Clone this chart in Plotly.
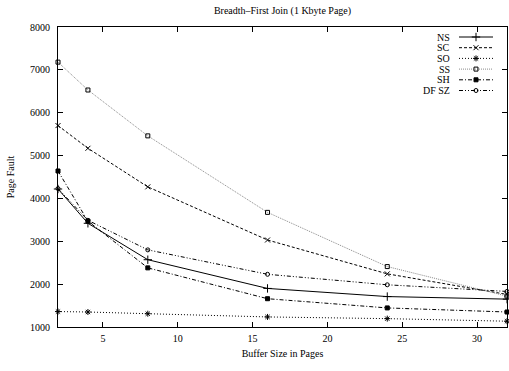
import plotly.graph_objects as go

buffer_pages = [2, 4, 8, 16, 24, 32]
series_names = ["NS", "SC", "SO", "SS", "SH", "DF SZ"]
ns = [4220, 3420, 2570, 1900, 1710, 1650]
sc = [5700, 5170, 4270, 3030, 2240, 1760]
so = [1360, 1350, 1310, 1235, 1195, 1135]
ss = [7180, 6530, 5460, 3675, 2410, 1720]
sh = [4640, 3470, 2380, 1660, 1445, 1350]
dfsz = [4230, 3490, 2800, 2230, 1985, 1830]
values = [ns, sc, so, ss, sh, dfsz]

title = "Breadth\u2013First Join (1 Kbyte Page)"
x_title = "Buffer Size in Pages"
y_title = "Page Fault"
x_ticks = [5, 10, 15, 20, 25, 30]
y_ticks = [1000, 2000, 3000, 4000, 5000, 6000, 7000, 8000]

styles = [
    dict(color="black", dash="solid", symbol="cross-thin-open", msize=6),
    dict(color="black", dash="3px,2px", symbol="x-thin-open", msize=5),
    dict(color="black", dash="1px,2px", symbol="asterisk-open", msize=5),
    dict(color="#8a8a8a", dash="1px,1px", symbol="square-open", msize=4),
    dict(color="black", dash="4px,2px,1px,2px", symbol="square", msize=4),
    dict(color="black", dash="4px,2px,1px,2px,1px,2px", symbol="circle-open", msize=4),
]

FONT = "Liberation Serif"
L, R, T, B = 58, 2, 27, 44
W, H = 509, 371
PW, PH = W - L - R, H - T - B

fig = go.Figure()
for name, vals, st in zip(series_names, values, styles):
    fig.add_trace(go.Scatter(
        x=buffer_pages, y=vals, name=name, mode="lines+markers",
        line=dict(color=st["color"], width=1, dash=st["dash"]),
        marker=dict(symbol=st["symbol"], size=st["msize"], color="black",
                    line=dict(color="black", width=1)),
        showlegend=False, cliponaxis=False,
    ))

# custom gnuplot-style legend (text right-aligned, sample to the right of text)
leg_text_right = 452 - L
leg_x0, leg_x1 = 459 - L, 493 - L
row0, row_step = 37 - T, 10.7
for i, (name, st) in enumerate(zip(series_names, styles)):
    ypx = PH - (row0 + i * row_step)
    fig.add_trace(go.Scatter(
        x=[leg_x0, leg_x1], y=[ypx, ypx], mode="lines", xaxis="x2", yaxis="y2",
        line=dict(color=st["color"], width=1, dash=st["dash"]), showlegend=False,
        hoverinfo="skip"))
    fig.add_trace(go.Scatter(
        x=[(leg_x0 + leg_x1) / 2], y=[ypx], mode="markers", xaxis="x2", yaxis="y2",
        marker=dict(symbol=st["symbol"], size=st["msize"], color="black",
                    line=dict(color="black", width=1)), showlegend=False,
        hoverinfo="skip"))
    fig.add_annotation(x=leg_text_right, y=ypx, xref="x2", yref="y2", text=name,
                       showarrow=False, xanchor="right", yanchor="middle",
                       font=dict(family=FONT, size=10, color="black"))

axis_common = dict(showline=True, linecolor="black", linewidth=1, mirror="ticks",
                   ticks="inside", ticklen=5, tickcolor="black", showgrid=False,
                   zeroline=False, tickfont=dict(family=FONT, size=10, color="black"))

fig.update_layout(
    width=W, height=H, margin=dict(l=L, r=R, t=T, b=B),
    paper_bgcolor="white", plot_bgcolor="white",
    font=dict(family=FONT, size=10, color="black"),
    title=dict(text=title, x=(L + W - R) / 2 / W, xanchor="center", y=1 - 10 / H,
               yanchor="middle", font=dict(family=FONT, size=10, color="black")),
    xaxis=dict(range=[2, 32], tickvals=x_ticks, ticklabelstandoff=2,
               title=dict(text=x_title, standoff=6, font=dict(family=FONT, size=10)),
               **axis_common),
    yaxis=dict(range=[1000, 8000], tickvals=y_ticks, ticklabelstandoff=5,
               title=dict(text=y_title, standoff=13, font=dict(family=FONT, size=10)),
               **axis_common),
    xaxis2=dict(range=[0, PW], overlaying="x", visible=False, fixedrange=True),
    yaxis2=dict(range=[0, PH], overlaying="y", visible=False, fixedrange=True),
)

fig.write_html("out.html")
